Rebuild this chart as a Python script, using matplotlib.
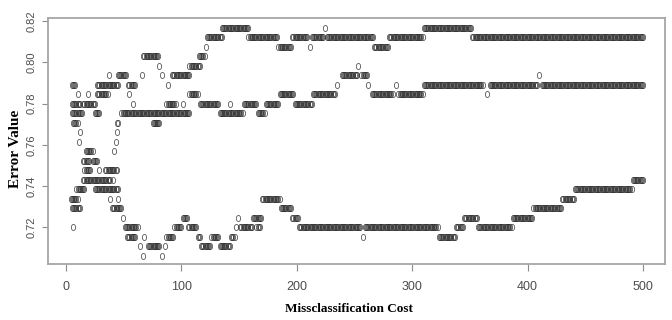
import numpy as np
import matplotlib
matplotlib.use("Agg")
import matplotlib.pyplot as plt
from matplotlib.path import Path

# ========================================
# Data (runs): start cost, end cost, error value
# ========================================

upper_x0 = [5, 10, 19, 27, 27, 37, 45, 54, 66, 67, 81, 83, 88, 92, 107, 115, 121, 122,
            135, 158, 184, 196, 211, 213, 224, 226, 267, 280, 310, 352]
upper_x1 = [8, 10, 19, 36, 45, 37, 52, 60, 66, 80, 81, 83, 88, 107, 116, 120, 121, 135,
            158, 183, 195, 209, 211, 223, 224, 266, 279, 309, 351, 500]
upper_y = [0.7891, 0.7845, 0.7845, 0.7845, 0.7891, 0.7938, 0.7938, 0.7891, 0.7938, 0.8030,
           0.7984, 0.7938, 0.7891, 0.7938, 0.7984, 0.8030, 0.8076, 0.8122, 0.8168, 0.8122,
           0.8076, 0.8122, 0.8076, 0.8122, 0.8168, 0.8122, 0.8076, 0.8122, 0.8168, 0.8122]

middle_x0 = [5, 15, 5, 25, 6, 12, 11, 42, 43, 44, 44, 48, 55, 58, 75, 87, 101, 107, 116,
             133, 142, 154, 166, 173, 185, 198, 214, 235, 239, 253, 256, 262, 265, 286,
             288, 310, 365, 367, 410, 412]
middle_x1 = [12, 25, 14, 29, 10, 12, 11, 42, 43, 44, 45, 107, 55, 58, 81, 95, 101, 114, 132,
             153, 142, 165, 172, 184, 197, 213, 233, 235, 252, 253, 261, 262, 283, 286,
             309, 361, 365, 408, 410, 500]
middle_y = [0.7799, 0.7799, 0.7753, 0.7753, 0.7707, 0.7661, 0.7615, 0.7569, 0.7615, 0.7661,
            0.7707, 0.7753, 0.7845, 0.7799, 0.7707, 0.7799, 0.7799, 0.7845, 0.7799, 0.7753,
            0.7799, 0.7799, 0.7753, 0.7799, 0.7845, 0.7799, 0.7845, 0.7891, 0.7938, 0.7984,
            0.7938, 0.7891, 0.7845, 0.7891, 0.7845, 0.7891, 0.7845, 0.7891, 0.7938, 0.7891]

lower_x0 = [4, 5, 6, 9, 15, 16, 15, 23, 17, 29, 34, 25, 41, 38, 45, 40, 49, 51, 53, 64,
            67, 68, 71, 83, 86, 87, 94, 101, 106, 114, 117, 126, 133, 143, 147, 149, 151,
            162, 165, 170, 186, 196, 202, 257, 259, 323, 338, 345, 357, 387, 405, 430, 441,
            491]
lower_x1 = [10, 12, 6, 16, 38, 21, 20, 27, 23, 29, 44, 45, 41, 38, 45, 48, 49, 62, 60, 64,
            67, 68, 81, 83, 86, 93, 100, 105, 113, 116, 125, 132, 142, 146, 147, 149, 161,
            169, 168, 185, 195, 201, 255, 257, 322, 337, 344, 356, 386, 404, 429, 440, 490,
            500]
lower_y = [0.7338, 0.7292, 0.7200, 0.7384, 0.7431, 0.7477, 0.7523, 0.7523, 0.7569, 0.7477,
           0.7477, 0.7384, 0.7431, 0.7338, 0.7338, 0.7292, 0.7246, 0.7200, 0.7154, 0.7108,
           0.7062, 0.7154, 0.7108, 0.7062, 0.7108, 0.7154, 0.7200, 0.7246, 0.7200, 0.7154,
           0.7108, 0.7154, 0.7108, 0.7154, 0.7200, 0.7246, 0.7200, 0.7246, 0.7200, 0.7338,
           0.7292, 0.7246, 0.7200, 0.7154, 0.7200, 0.7154, 0.7200, 0.7246, 0.7200, 0.7246,
           0.7292, 0.7338, 0.7384, 0.7431]

x_ticks = [0, 100, 200, 300, 400, 500]
y_ticks = [0.72, 0.74, 0.76, 0.78, 0.80, 0.82]


def expand(x0, x1, y, step=1):
    xs, ys = [], []
    for a, b, v in zip(x0, x1, y):
        pts = np.arange(a, b + 0.01, step) if b > a else np.array([a])
        xs.append(pts)
        ys.append(np.full(len(pts), v))
    return np.concatenate(xs), np.concatenate(ys)


# ========================================
# Setup plot
# ========================================

fig = plt.figure(figsize=(6.72, 3.2), dpi=100)
ax = fig.add_axes([48 / 672, 56 / 320, 617 / 672, 246 / 320])

# narrow open "circle" like the squeezed R pch=1
circ = Path.unit_circle()
ellipse = Path(circ.vertices * np.array([0.7, 1.0]), circ.codes)

for x0, x1, yv in [(upper_x0, upper_x1, upper_y),
                   (middle_x0, middle_x1, middle_y),
                   (lower_x0, lower_x1, lower_y)]:
    xs, ys = expand(x0, x1, yv)
    ax.plot(xs, ys, linestyle="none", marker=ellipse, markersize=4.4,
            markerfacecolor="none", markeredgecolor="#2b2b2b", markeredgewidth=0.55,
            alpha=0.85)

ax.set_xlim(-15.6, 519)
ax.set_ylim(0.7022, 0.8215)

ax.set_xticks(x_ticks)
ax.set_xticklabels([str(t) for t in x_ticks], family=["Liberation Sans Narrow", "Liberation Sans"],
                   fontsize=9)
ax.set_yticks(y_ticks)
ax.set_yticklabels([f"{t:.2f}" for t in y_ticks], family="Liberation Sans", fontsize=8,
                   rotation=90, va="center")

ax.tick_params(axis="x", length=5, width=0.8, color="#8c8c8c", labelcolor="#4d4d4d", pad=7)
ax.tick_params(axis="y", length=4, width=0.8, color="#8c8c8c", labelcolor="#4d4d4d", pad=4)

for sp in ax.spines.values():
    sp.set_color("#a6a6a6")
    sp.set_linewidth(1.3)

ax.set_xlabel("Missclassification Cost", family="Liberation Serif", fontweight="bold",
              fontsize=9.5)
ax.xaxis.set_label_coords(0.488, -0.16)
ax.set_ylabel("Error Value", family="Liberation Serif", fontweight="bold", fontsize=11)
ax.yaxis.set_label_coords(-0.042, 0.47)

fig.savefig("out.png", dpi=100)
